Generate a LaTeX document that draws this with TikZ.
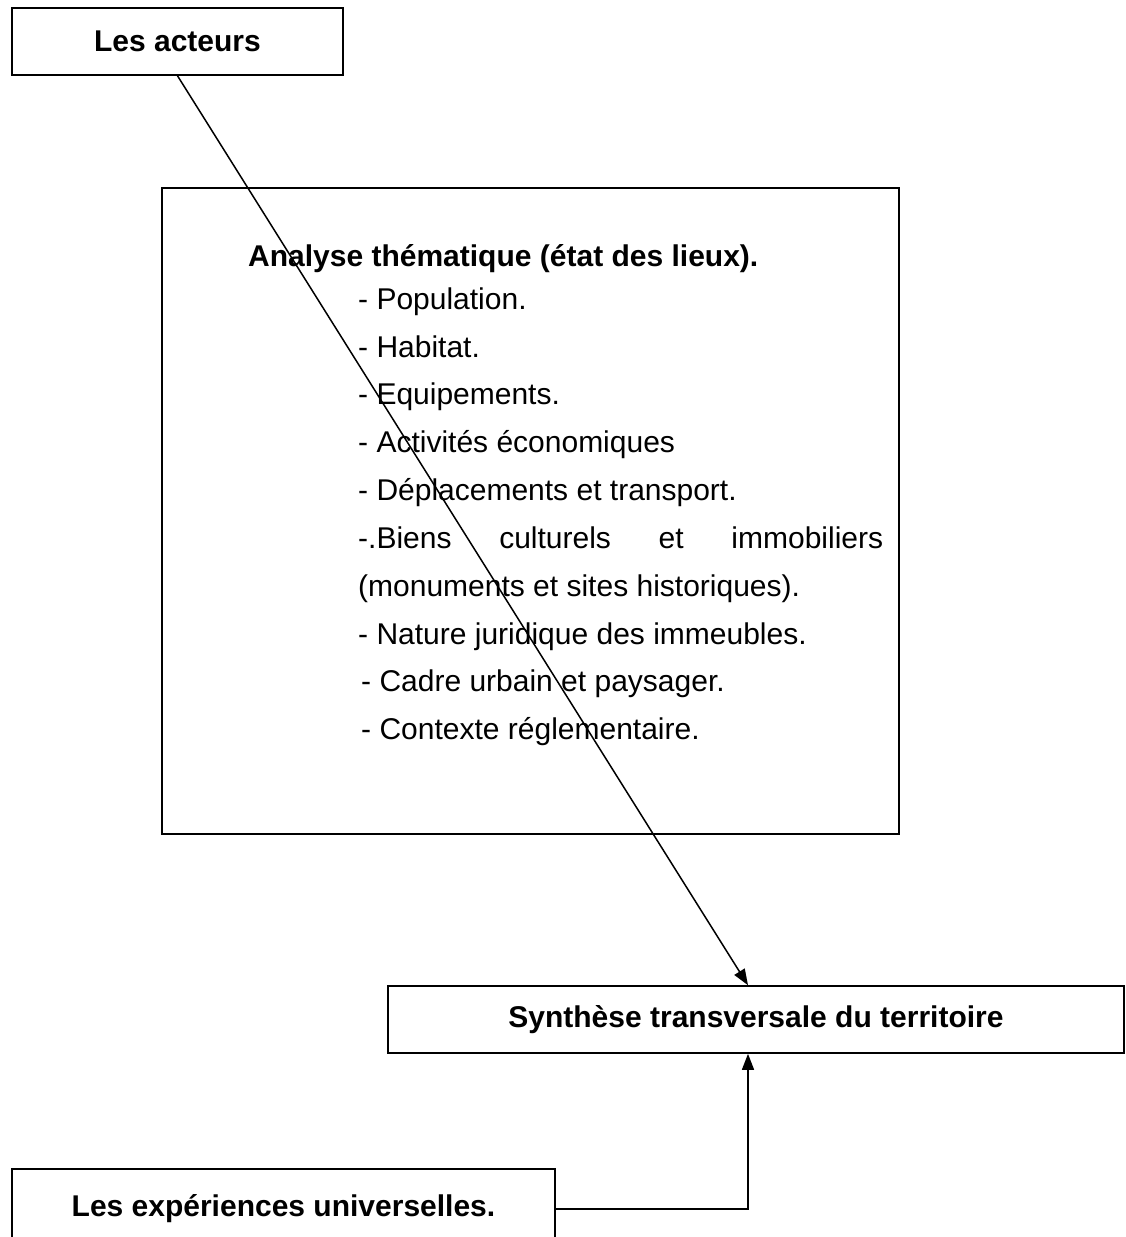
\documentclass[tikz,border=0pt]{standalone}
\usepackage{fontspec}
\setmainfont{Liberation Sans}
\usetikzlibrary{arrows.meta,calc}
\begin{document}
\begin{tikzpicture}[x=1pt,y=-1pt,
  box/.style={draw,line width=1.6pt,rectangle,inner sep=0pt,font=\fontsize{30}{36}\selectfont\bfseries},
  item/.style={anchor=base west,inner sep=0pt,font=\fontsize{30}{36}\selectfont},
  conn/.style={line width=1.5pt,-{Triangle[length=16pt,width=12pt]}}]
\useasboundingbox (0,0) rectangle (1125,1237);
\node[box,minimum width=331pt,minimum height=67pt] (acteurs) at (177.5,41.5) {Les acteurs};
\node[box,minimum width=737pt,minimum height=646pt] (analyse) at (530.5,511) {};
\node[box,minimum width=736pt,minimum height=67pt] (synth) at (756,1019.5) {Synthèse transversale du territoire};
\node[box,minimum width=543pt,minimum height=80pt] (exp) at (283.5,1209) {Les expériences universelles.};
\node[item,font=\fontsize{30}{36}\selectfont\bfseries] (t0) at (248,266) {Analyse thématique (état des lieux).};
\node[item] (t1) at (358,309) {- Population.};
\node[item] (t2) at (358,357) {- Habitat.};
\node[item] (t3) at (358,404) {- Equipements.};
\node[item] (t4) at (358,452) {- Activités économiques};
\node[item] (t5) at (358,500) {- Déplacements et transport.};
\node[item] (t6) at (358,548) {\makebox[525pt][s]{-.Biens culturels et immobiliers}};
\node[item] (t7) at (358,596) {(monuments et sites historiques).};
\node[item] (t8) at (358,644) {- Nature juridique des immeubles.};
\node[item] (t9) at (361,691) {- Cadre urbain et paysager.};
\node[item] (t10) at (361,739) {- Contexte réglementaire.};
\draw[conn] (acteurs.south) -- ([xshift=-8pt]synth.north);
\draw[conn] (exp.east) -| ([xshift=-8pt]synth.south);
\end{tikzpicture}
\end{document}
